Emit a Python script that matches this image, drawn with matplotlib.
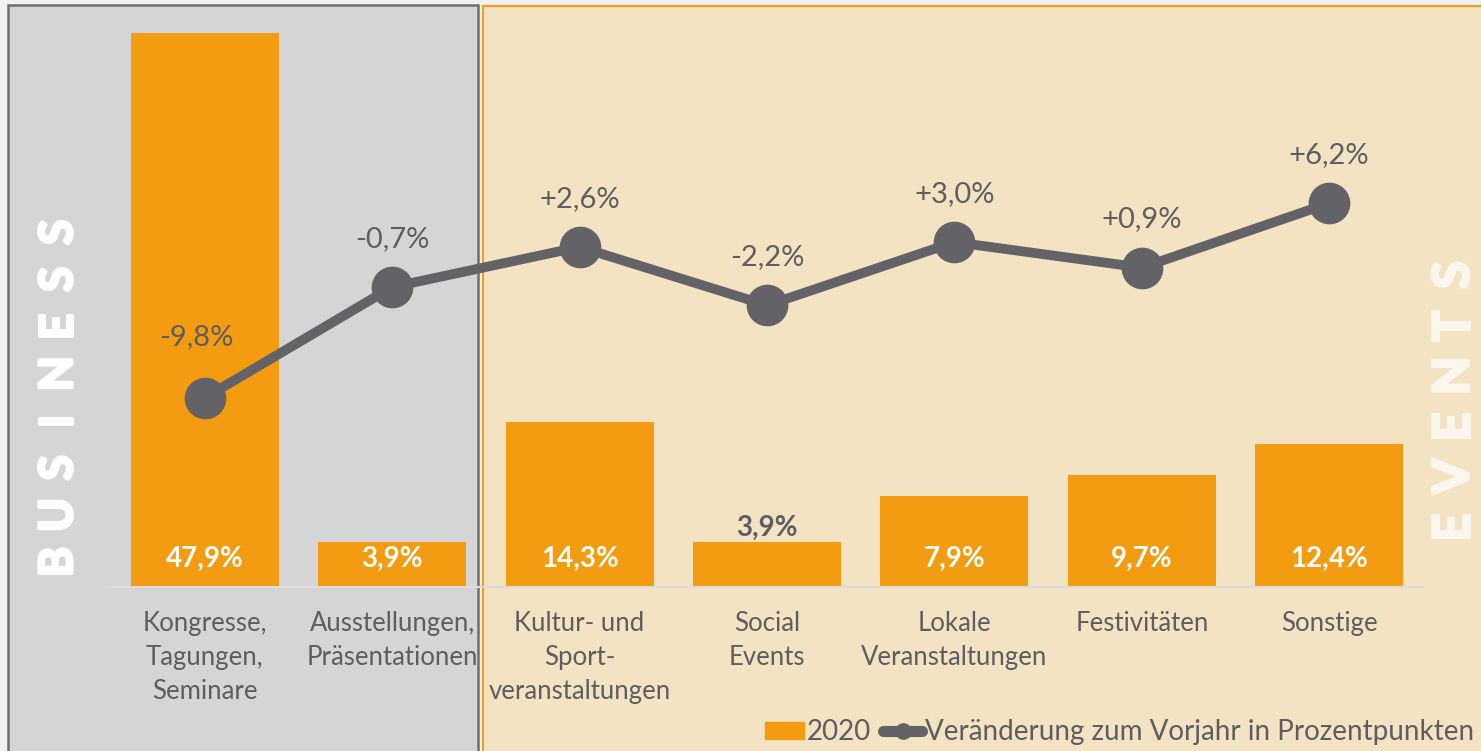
import numpy as np
import matplotlib.pyplot as plt
import matplotlib.patheffects as pe
from matplotlib.patches import Rectangle, Patch
from matplotlib.lines import Line2D

plt.rcParams['font.family'] = ['Lato', 'DejaVu Sans']

# data
categories = ['Kongresse,\nTagungen,\nSeminare', 'Ausstellungen,\nPräsentationen',
              'Kultur- und\nSport-\nveranstaltungen', 'Social\nEvents',
              'Lokale\nVeranstaltungen', 'Festivitäten', 'Sonstige']
share_2020 = [47.9, 3.9, 14.3, 3.9, 7.9, 9.7, 12.4]
change_pp = [-9.8, -0.7, 2.6, -2.2, 3.0, 0.9, 6.2]
legend_labels = ['2020', 'Veränderung zum Vorjahr in Prozentpunkten']

bar_c = '#f39c12'
line_c = '#636267'
text_c = '#5d5d62'

W, H = 1481, 751
fig = plt.figure(figsize=(W / 100, H / 100), dpi=100)
fig.patch.set_facecolor('#f1f1f1')

def fx(px):
    return px / W

def fy(py):
    return 1 - py / H

# background panels (business / events)
fig.patches.append(Rectangle((fx(8), fy(770)), fx(478 - 8), (770 - 5) / H,
                             transform=fig.transFigure, facecolor='#d5d5d5',
                             edgecolor='#6e6e70', lw=1.8, zorder=-5))
fig.patches.append(Rectangle((fx(483), fy(770)), fx(1520 - 483), (770 - 6) / H,
                             transform=fig.transFigure, facecolor='#f3e3c3',
                             edgecolor='#e9a320', lw=1.6, zorder=-5))

ax = fig.add_axes([fx(111), fy(587), fx(1312), 578.5 / H])
ax.set_facecolor('none')
x = np.arange(len(categories))
ax.bar(x, share_2020, width=0.79, color=bar_c, zorder=2)
ax.axhline(0, color='#dcdcdc', lw=1.5, zorder=3, clip_on=False)
ax.set_xlim(-0.5, 6.5)
ax.set_ylim(0, 50)
for s in ax.spines.values():
    s.set_visible(False)
ax.set_yticks([])
ax.set_xticks(x)
ax.set_xticklabels(categories, fontsize=18.5, color=text_c, linespacing=1.46)
ax.tick_params(axis='x', length=0, pad=17)

for i, v in enumerate(share_2020):
    lbl = f"{v:.1f}%".replace('.', ',')
    if i == 3:
        ax.annotate(lbl, (i, v), xytext=(0, 4), textcoords='offset points',
                    ha='center', va='baseline', fontsize=20, fontweight='bold', color=text_c)
    else:
        ax.annotate(lbl, (i, 0), xytext=(0, 14.4), textcoords='offset points',
                    ha='center', va='baseline', fontsize=20, fontweight='bold', color='white')

ax2 = ax.twinx()
ax2.set_ylim(-25.35, 22.2)
ax2.plot(x, change_pp, color=line_c, lw=7, marker='o', ms=29, zorder=3)
ax2.axis('off')
for i, v in enumerate(change_pp):
    lbl = f"{v:+.1f}%".replace('.', ',')
    off = (-6, 38) if i == 0 else (0, 29)
    ax2.annotate(lbl, (i, v), xytext=off, textcoords='offset points',
                 ha='center', va='baseline', fontsize=21, color=text_c)

handles = [Patch(color=bar_c),
           Line2D([], [], color=line_c, lw=8, marker='o', ms=11, solid_capstyle='round')]
fig.legend(handles, legend_labels, loc='center right', bbox_to_anchor=(fx(1474), fy(732)),
           ncol=2, frameon=False, fontsize=20, labelcolor=text_c, handlelength=1.4,
           handleheight=0.55, handletextpad=0.1, columnspacing=0.45,
           borderaxespad=0, borderpad=0)

# side titles
for k, ch in enumerate('BUSINESS'):
    fig.text(fx(59), fy(562 - k * 47.1), ch, rotation=90, ha='center', va='center',
             fontsize=33, fontweight='bold', color='white',
             path_effects=[pe.withStroke(linewidth=2.2, foreground='white')])
for k, ch in enumerate('EVENTS'):
    fig.text(fx(1454), fy(527 - k * 50.4), ch, rotation=90, ha='center', va='center',
             fontsize=36, fontweight='bold', color='#fbf7ee',
             path_effects=[pe.withStroke(linewidth=2.2, foreground='#fbf7ee')])

fig.savefig('out.png', dpi=100, facecolor=fig.get_facecolor())
